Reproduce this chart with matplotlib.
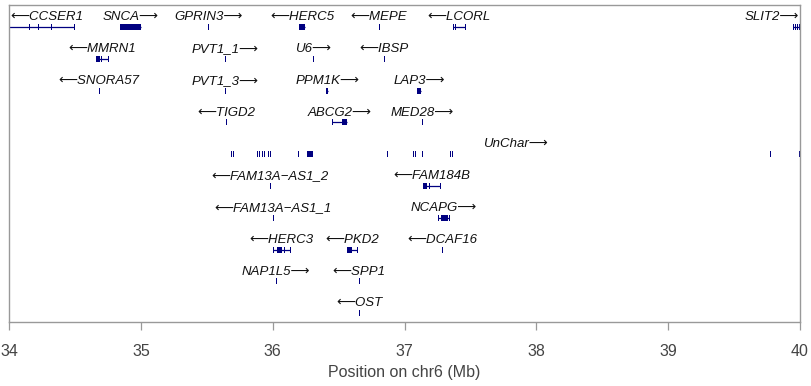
# -*- coding: utf-8 -*-
import matplotlib
matplotlib.use('Agg')
import matplotlib.pyplot as plt
from matplotlib import rcParams

rcParams['font.family'] = ['Liberation Sans', 'DejaVu Sans']

# gene track data (positions in Mb)
gene_names = ['CCSER1', 'SNCA', 'GPRIN3', 'HERC5', 'MEPE', 'LCORL', 'SLIT2',
              'MMRN1', 'PVT1_1', 'U6', 'IBSP',
              'SNORA57', 'PVT1_3', 'PPM1K', 'LAP3',
              'TIGD2', 'ABCG2', 'MED28',
              'UnChar',
              'FAM13A\u2212AS1_2', 'FAM184B',
              'FAM13A\u2212AS1_1', 'NCAPG',
              'HERC3', 'PKD2', 'DCAF16',
              'NAP1L5', 'SPP1',
              'OST']
gene_rows = [1, 1, 1, 1, 1, 1, 1,
             2, 2, 2, 2,
             3, 3, 3, 3,
             4, 4, 4,
             5,
             6, 6,
             7, 7,
             8, 8, 8,
             9, 9,
             10]
gene_strands = ['-', '+', '+', '-', '-', '-', '+',
                '-', '+', '+', '-',
                '-', '+', '+', '+',
                '-', '+', '+',
                '+',
                '-', '-',
                '-', '+',
                '-', '-', '-',
                '+', '-',
                '-']
gene_starts = [33.90, 34.842, 35.508, 36.200, 36.805, 37.368, 39.945,
               34.660, 35.636, 36.304, 36.843,
               34.681, 35.636, 36.408, 37.095,
               35.644, 36.450, 37.131,
               35.688,
               35.978, 37.140,
               36.001, 37.254,
               36.003, 36.564, 37.283,
               36.023, 36.653,
               36.653]
gene_ends = [34.495, 35.001, 35.512, 36.245, 36.809, 37.461, 40.05,
             34.753, 35.640, 36.307, 36.847,
             34.685, 35.640, 36.418, 37.125,
             35.648, 36.564, 37.135,
             40.0,
             35.982, 37.271,
             36.005, 37.340,
             36.134, 36.642, 37.287,
             36.027, 36.657,
             36.657]
gene_exons = [
    [(34.150, 34.154), (34.218, 34.222), (34.317, 34.321), (34.491, 34.495)],
    [(34.842, 35.001)],
    [(35.508, 35.512)],
    [(36.200, 36.245)],
    [(36.805, 36.809)],
    [(37.366, 37.370), (37.381, 37.384), (37.457, 37.461)],
    [(39.945, 39.949), (39.960, 39.964), (39.975, 39.979), (39.990, 40.05)],
    [(34.658, 34.662), (34.671, 34.675), (34.684, 34.688), (34.697, 34.701), (34.749, 34.753)],
    [(35.636, 35.640)],
    [(36.305, 36.307)],
    [(36.843, 36.847)],
    [(34.681, 34.685)],
    [(35.636, 35.640)],
    [(36.408, 36.418)],
    [(37.095, 37.125)],
    [(35.644, 35.648)],
    [(36.448, 36.452), (36.524, 36.564)],
    [(37.131, 37.135)],
    [(35.686, 35.690), (35.701, 35.705), (35.879, 35.883), (35.898, 35.902),
     (35.917, 35.921), (35.936, 35.940), (35.963, 35.967), (35.978, 35.982),
     (36.190, 36.194), (36.260, 36.306), (36.865, 36.869), (37.063, 37.067),
     (37.078, 37.082), (37.131, 37.135), (37.343, 37.347), (37.358, 37.362),
     (39.771, 39.775), (39.994, 40.0)],
    [(35.978, 35.982)],
    [(37.140, 37.170), (37.183, 37.187), (37.267, 37.271)],
    [(36.001, 36.005)],
    [(37.252, 37.256), (37.277, 37.330), (37.336, 37.340)],
    [(36.001, 36.005), (36.033, 36.071), (36.084, 36.088), (36.130, 36.134)],
    [(36.564, 36.602), (36.638, 36.642)],
    [(37.283, 37.287)],
    [(36.023, 36.027)],
    [(36.653, 36.657)],
    [(36.653, 36.657)],
]
no_intron_line = ['UnChar']

x_min, x_max = 34, 40
x_ticks = [34, 35, 36, 37, 38, 39, 40]

gene_col = '#000080'
frame_col = '#999999'
text_col = '#444444'

fig = plt.figure(figsize=(8.11, 3.86), dpi=100)
ax = fig.add_axes([9 / 811, 64 / 386, 791 / 811, 317 / 386])
ax.set_xlim(x_min, x_max)
ax.set_ylim(10.277, 0.308)

exon_h = 0.19
for name, row, strand, s, e, exons in zip(gene_names, gene_rows, gene_strands,
                                          gene_starts, gene_ends, gene_exons):
    if name not in no_intron_line:
        ax.plot([s, e], [row, row], color=gene_col, lw=0.9, solid_capstyle='butt')
    lefts = [a for a, b in exons]
    widths = [max(b - a, 0.008) for a, b in exons]
    ax.barh([row] * len(exons), widths, left=lefts, height=exon_h,
            color=gene_col, edgecolor='none')

fig.canvas.draw()
renderer = fig.canvas.get_renderer()
inv = ax.transData.inverted()
for name, row, strand, s, e in zip(gene_names, gene_rows, gene_strands, gene_starts, gene_ends):
    lab = u'\u27f5' + name if strand == '-' else name + u'\u27f6'
    mid = (max(s, x_min) + min(e, x_max)) / 2.0
    t = ax.text(mid, row - 0.31, lab, ha='center', va='center', fontsize=9.5,
                style='italic', color='#111111')
    bb = t.get_window_extent(renderer=renderer)
    (x0, _), (x1, _) = inv.transform([(bb.x0, 0), (bb.x1, 0)])
    if x0 < x_min:
        t.set_x(mid + (x_min - x0) + 0.01)
    elif x1 > x_max:
        t.set_x(mid - (x1 - x_max) - 0.01)

ax.set_yticks([])
ax.set_xticks(x_ticks)
ax.set_xticklabels([str(v) for v in x_ticks])
ax.tick_params(axis='x', direction='out', length=6, width=0.9, color=frame_col,
               labelsize=11.5, labelcolor=text_col, pad=10)
for sp in ax.spines.values():
    sp.set_color(frame_col)
    sp.set_linewidth(1.0)
ax.set_xlabel('Position on chr6 (Mb)', fontsize=11.5, color=text_col, labelpad=4)

fig.savefig('out.png', dpi=100)
